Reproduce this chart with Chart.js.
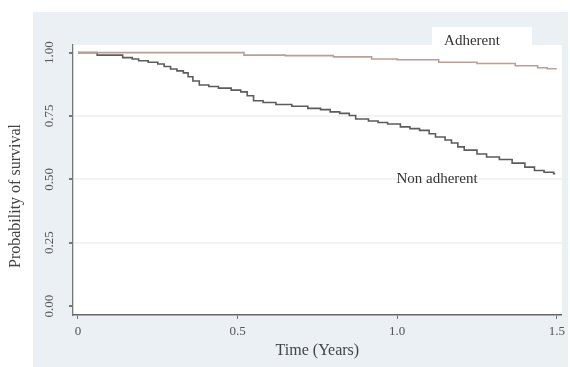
<!DOCTYPE html>
<html lang="en">
<head>
    <meta charset="UTF-8">
    <title>Survival by adherence</title>
    <script src="https://cdn.jsdelivr.net/npm/chart.js"></script>
    <style>
        body { margin: 0; background: #fff; }
        canvas { display: block; }
    </style>
</head>
<body>
    <canvas id="chartKM" width="570" height="367"></canvas>

    <script>
        // Kaplan-Meier estimates (time in years)
        const adherentTime = [0, 0.52, 0.65, 0.80, 0.92, 1.00, 1.13, 1.25, 1.37, 1.44, 1.47, 1.497];
        const adherentSurv = [1.0, 0.99, 0.988, 0.983, 0.975, 0.972, 0.962, 0.957, 0.948, 0.94, 0.936, 0.933];

        const nonAdherentTime = [0, 0.06, 0.14, 0.17, 0.19, 0.22, 0.25, 0.27, 0.29, 0.31, 0.33, 0.345,
            0.36, 0.38, 0.41, 0.44, 0.48, 0.51, 0.53, 0.55, 0.58, 0.62, 0.67, 0.72, 0.76, 0.79, 0.82,
            0.85, 0.87, 0.91, 0.94, 0.97, 1.01, 1.04, 1.07, 1.10, 1.12, 1.15, 1.17, 1.19, 1.21, 1.25,
            1.28, 1.32, 1.36, 1.40, 1.43, 1.46, 1.49, 1.495];
        const nonAdherentSurv = [1.0, 0.99, 0.98, 0.975, 0.968, 0.962, 0.955, 0.945, 0.935, 0.928, 0.92, 0.905,
            0.888, 0.872, 0.866, 0.86, 0.852, 0.845, 0.83, 0.81, 0.803, 0.795, 0.788, 0.78, 0.775, 0.766, 0.76,
            0.752, 0.738, 0.73, 0.724, 0.718, 0.707, 0.70, 0.693, 0.68, 0.667, 0.655, 0.643, 0.628, 0.615, 0.60,
            0.588, 0.578, 0.564, 0.548, 0.535, 0.528, 0.522, 0.522];

        const xTicks = [0, 0.5, 1.0, 1.5];
        const xTickLabels = ['0', '0.5', '1.0', '1.5'];
        const yTicks = [0, 0.25, 0.5, 0.75, 1.0];
        const yTickLabels = ['0.00', '0.25', '0.50', '0.75', '1.00'];

        const toPoints = (xs, ys) => xs.map((x, i) => ({ x: x, y: ys[i] }));

        // light panel behind the plot, white plot region, rotated y labels, curve labels
        const stataLook = {
            id: 'stataLook',
            beforeDraw(chart) {
                const { ctx, chartArea: a } = chart;
                ctx.save();
                ctx.fillStyle = '#fff';
                ctx.fillRect(0, 0, chart.width, chart.height);
                ctx.fillStyle = '#eaf0f3';
                ctx.fillRect(33, 12, 535, 355);
                ctx.fillStyle = '#fff';
                ctx.fillRect(a.left, a.top, a.right - a.left, a.bottom - a.top);
                // white box behind the Adherent label
                ctx.fillRect(432, 27, 100, 20);
                ctx.restore();
            },
            afterDraw(chart) {
                const { ctx } = chart;
                const ys = chart.scales.y;
                ctx.save();
                ctx.fillStyle = '#555';
                ctx.font = '13px "Liberation Serif"';
                ctx.textAlign = 'center';
                ctx.textBaseline = 'middle';
                yTicks.forEach((v, i) => {
                    ctx.save();
                    ctx.translate(50, ys.getPixelForValue(v));
                    ctx.rotate(-Math.PI / 2);
                    ctx.fillText(yTickLabels[i], 0, 0);
                    ctx.restore();
                });
                // y axis title sits a little below the plot centre in the original
                ctx.fillStyle = '#444';
                ctx.font = '16px "Liberation Serif"';
                ctx.save();
                ctx.translate(16, 196);
                ctx.rotate(-Math.PI / 2);
                ctx.fillText('Probability of survival', 0, 0);
                ctx.restore();
                ctx.fillStyle = '#333';
                ctx.font = '15px "Liberation Serif"';
                ctx.fillText('Adherent', 472, 41);
                ctx.fillText('Non adherent', 437, 179);
                ctx.restore();
            }
        };

        new Chart(document.getElementById('chartKM'), {
            type: 'line',
            data: {
                datasets: [{
                    label: 'Adherent',
                    data: toPoints(adherentTime, adherentSurv),
                    borderColor: '#b9a092',
                    borderWidth: 1.6,
                    stepped: true,
                    pointRadius: 0,
                    fill: false
                }, {
                    label: 'Non adherent',
                    data: toPoints(nonAdherentTime, nonAdherentSurv),
                    borderColor: '#5c5c5c',
                    borderWidth: 1.6,
                    stepped: true,
                    pointRadius: 0,
                    fill: false
                }]
            },
            options: {
                responsive: false,
                animation: false,
                devicePixelRatio: 1,
                layout: { padding: { top: 45, right: 7, left: 0, bottom: 0 } },
                plugins: {
                    legend: { display: false },
                    tooltip: { enabled: false }
                },
                scales: {
                    x: {
                        type: 'linear',
                        min: -0.0156,
                        max: 1.5156,
                        afterBuildTicks: s => { s.ticks = xTicks.map(v => ({ value: v })); },
                        afterFit: s => { s.height = 52; },
                        ticks: {
                            callback: v => xTickLabels[xTicks.indexOf(v)],
                            color: '#555',
                            font: { family: 'Liberation Serif', size: 13 },
                            padding: 5,
                            maxRotation: 0
                        },
                        grid: { drawOnChartArea: false, tickLength: 4, tickColor: '#777' },
                        border: { color: '#666', width: 1.5 },
                        title: {
                            display: true,
                            text: 'Time (Years)',
                            color: '#444',
                            font: { family: 'Liberation Serif', size: 16 },
                            padding: { top: 0, bottom: 7 }
                        }
                    },
                    y: {
                        min: -0.0355,
                        max: 1.03,
                        afterBuildTicks: s => { s.ticks = yTicks.map(v => ({ value: v })); },
                        afterFit: s => { s.width = 73; },
                        ticks: {
                            callback: v => yTickLabels[yTicks.indexOf(v)],
                            color: 'rgba(0,0,0,0)'
                        },
                        grid: {
                            color: ctx => (ctx.tick && ctx.tick.value > 0 && ctx.tick.value < 1) ? '#f1f3f5' : 'rgba(0,0,0,0)',
                            lineWidth: 2,
                            tickLength: 4,
                            tickColor: '#777'
                        },
                        border: { color: '#777', width: 1.3 },
                        title: { display: false }
                    }
                }
            },
            plugins: [stataLook]
        });
    </script>
</body>
</html>
